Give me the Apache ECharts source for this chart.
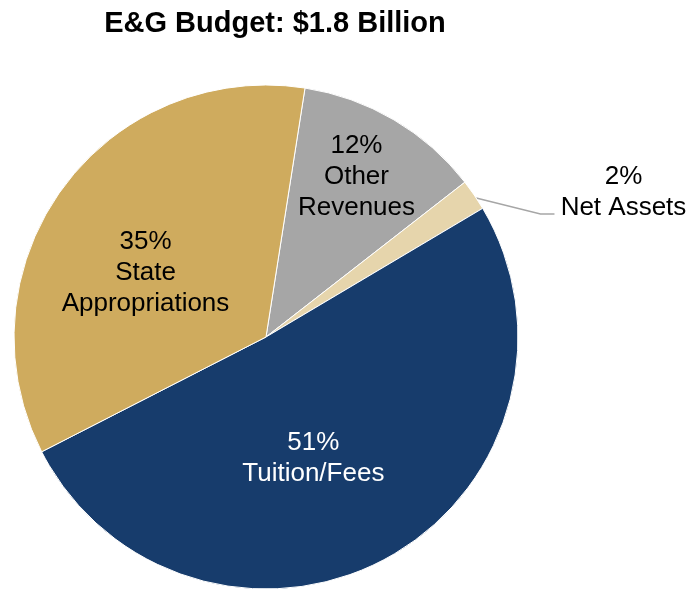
<!DOCTYPE html>
<html>
<head>
<meta charset="utf-8">
<script src="https://cdn.jsdelivr.net/npm/echarts@6/dist/echarts.min.js"></script>
<style>html,body{margin:0;padding:0;background:#fff;}#c{width:689px;height:590px;}</style>
</head>
<body>
<div id="c"></div>
<script>
// ---- data ----
var titleText = 'E&G Budget: $1.8 Billion';
var categories = ['Other Revenues', 'Net Assets', 'Tuition/Fees', 'State Appropriations'];
var shortNames = ['Other\nRevenues', 'Net Assets', 'Tuition/Fees', 'State\nAppropriations'];
var values = [12, 2, 51, 35];

// ---- styling ----
var colors = ['#A6A6A6', '#E6D5AC', '#173C6C', '#CFAB5E'];
var textColors = ['#000', '#000', '#fff', '#000'];
var labelShift = [[25, -49], [0, 0], [-15, 8], [-16, 11]];

var chart = echarts.init(document.getElementById('c'), null, {renderer: 'canvas'});
var FONT = '"Liberation Sans", Arial, sans-serif';

var data = categories.map(function (name, i) {
  var item = {
    name: name,
    value: values[i],
    itemStyle: {color: colors[i]},
    label: {color: textColors[i]}
  };
  if (i === 1) {
    item.label = {
      position: 'outside',
      color: '#000',
      formatter: function (p) { return '{c|' + p.value + '%}\n{c|' + shortNames[p.dataIndex] + '}'; },
      rich: {c: {width: 128, align: 'center', fontSize: 26, lineHeight: 31, fontFamily: FONT, color: '#000'}}
    };
    item.labelLine = {show: true, length: 4, length2: 77, lineStyle: {color: '#A6A6A6', width: 1.5}};
  }
  return item;
});

chart.setOption({
  animation: false,
  title: {
    text: titleText,
    left: 270,
    textAlign: 'center',
    top: 4,
    textStyle: {fontFamily: FONT, fontSize: 29, fontWeight: 'bold', color: '#000'}
  },
  series: [{
    type: 'pie',
    center: [266, 337],
    radius: [0, 252],
    startAngle: 81.1,
    clockwise: true,
    avoidLabelOverlap: false,
    itemStyle: {borderColor: '#fff', borderWidth: 1},
    label: {
      show: true,
      position: 'inside',
      fontFamily: FONT,
      fontSize: 26,
      lineHeight: 31,
      align: 'center',
      formatter: function (p) { return p.value + '%\n' + shortNames[p.dataIndex]; }
    },
    labelLine: {show: false},
    labelLayout: function (p) {
      var s = labelShift[p.dataIndex];
      var r = {dx: s[0], dy: s[1]};
      if (p.dataIndex === 1 && p.labelLinePoints) {
        var a = p.labelLinePoints[0];
        var e = p.labelLinePoints[2];
        r.labelLinePoints = [[a[0] + 2, a[1] + 3], [e[0] - 14, a[1] + 19], [e[0], a[1] + 19]];
      }
      return r;
    },
    data: data
  }]
});
</script>
</body>
</html>
